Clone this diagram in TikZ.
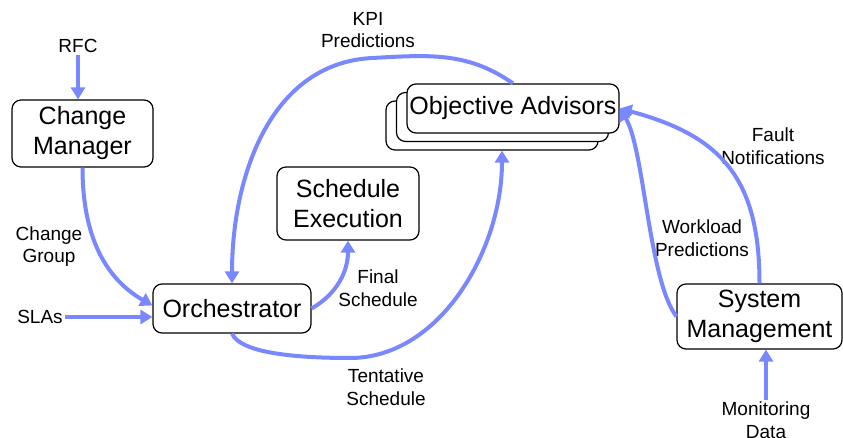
\documentclass[tikz,border=0pt]{standalone}
\usepackage{fontspec}
\setmainfont{Liberation Sans}
\usepackage{tikz}
\usetikzlibrary{arrows.meta,positioning}
\usepackage{xcolor}
\definecolor{flowblue}{RGB}{122,136,255}

\begin{document}
\begin{tikzpicture}[x=1pt, y=1pt,
    box/.style={rectangle, draw, line width=1.2pt, rounded corners=9pt, fill=white,
                align=center, inner sep=0pt, font=\fontsize{25}{30}\selectfont},
    lbl/.style={align=center, inner sep=2pt, font=\fontsize{19}{22.5}\selectfont},
    arrow/.style={-{Triangle[length=12pt,width=14pt]}, line width=4pt, draw=flowblue}
  ]

  \useasboundingbox (0,0) rectangle (843,-438);

  \node[box, minimum width=141, minimum height=67] (cm) at (82.5,-133.5) {Change\\Manager};
  \node[box, minimum width=158, minimum height=49] (orch) at (232,-308.5) {Orchestrator};
  \node[box, minimum width=142, minimum height=73] (sched) at (348,-203.5) {Schedule\\Execution};
  \node[box, minimum width=165, minimum height=65] (sysm) at (759.5,-316.5) {System\\Management};
  \node[box, minimum width=212, minimum height=49] (adv3) at (492,-125.5) {};
  \node[box, minimum width=212, minimum height=49] (adv2) at (502.5,-117) {};
  \node[box, minimum width=212, minimum height=49] (adv) at (513,-108.5) {Objective Advisors};

  \node[lbl] (rfc) at (78,-46) {RFC};
  \node[lbl] (sla) at (40,-317) {SLAs};
  \node[lbl] (mon) at (766,-420) {Monitoring\\Data};
  \node[lbl] (cg) at (49,-246.5) {Change\\Group};
  \node[lbl] (kpi) at (368,-30) {KPI\\Predictions};
  \node[lbl] (fin) at (378,-288) {Final\\Schedule};
  \node[lbl] (tent) at (386,-387) {Tentative\\Schedule};
  \node[lbl] (wl) at (702,-238) {Workload\\Predictions};
  \node[lbl] (fault) at (773,-146) {Fault\\Notifications};

  \draw[arrow] (rfc.south) -- (rfc.south |- cm.north);
  \draw[arrow] (sla) -- (sla -| orch.west);
  \draw[arrow] (mon.north) -- (mon.north |- sysm.south);
  \draw[arrow] (cm.south) to[out=-90, in=150] ([yshift=3pt]orch.west);
  \draw[arrow] (orch.east) to[out=30, in=-90] (sched.south);
  \draw[arrow] (adv.north) to[out=145, in=3] (372,-58) to[out=183, in=90] (orch.north);
  \draw[arrow] (orch.south) .. controls (240,-352) and (290,-358) .. (350,-358)
               .. controls (440,-358) and (502,-250) .. ([xshift=10pt]adv3.south);
  \draw[arrow] (sysm.north) to[out=90, in=-15, looseness=1.2] (adv.east);
  \draw[arrow] (sysm.west) to[out=127, in=-58, looseness=0.55] (adv.east);

\end{tikzpicture}
\end{document}
